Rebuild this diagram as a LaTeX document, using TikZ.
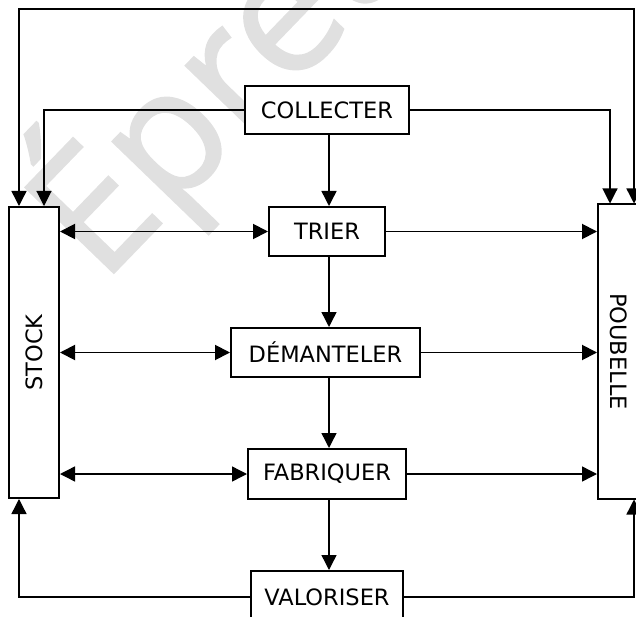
\documentclass[tikz,border=0pt]{standalone}
\usepackage{fontspec}
\setmainfont{DejaVu Sans}
\newfontfamily\wmfont[FakeBold=1.3]{Open Sans}
\usepackage{graphicx}
\usetikzlibrary{arrows.meta}
\definecolor{wmgray}{RGB}{224,224,224}
\begin{document}
\begin{tikzpicture}[x=1pt,y=-1pt,
  ah/.tip={Triangle[length=15pt,width=15pt]},
  box/.style={draw, line width=2pt, fill=white, minimum height=49pt, inner sep=0pt,
    font=\fontsize{22.5}{27}\selectfont},
  thinc/.style={line width=1.1pt},
  medc/.style={line width=1.4pt},
  thickc/.style={line width=1.9pt}
]
\useasboundingbox (0,0) rectangle (636,617);
\begin{scope}
\clip (0,0) rectangle (636,617);
% watermark
\node[text=wmgray, rotate=46, anchor=base west, inner sep=0pt,
  font=\wmfont\fontsize{172}{200}\selectfont] (wmark) at (102,285) {Épreuve};

% boxes
\node[box, minimum width=164pt, minimum height=48pt] (col) at (327,110) {COLLECTER};
\node[box, minimum width=116pt] (tri) at (327,231.5) {TRIER};
\node[box, minimum width=189pt] (dem) at (325.5,352.5) {DÉMANTELER};
\node[box, minimum width=158pt, minimum height=50pt] (fab) at (327,474) {FABRIQUER};
\node[box, minimum width=152pt, minimum height=52pt] (val) at (327,597) {VALORISER};
\node[box, minimum width=50pt, minimum height=291pt] (stock) at (34,352.5) {\rotatebox{90}{STOCK}};
\node[box, minimum width=42pt, minimum height=294pt] (poub) at (619,351.5) {\rotatebox{-90}{POUBELLE}};

\coordinate (top) at (327,9);

% outer loops
\draw[medc, ah-ah] ([xshift=-15pt]stock.north) |- (top) -| ([xshift=15pt]poub.north);
\draw[medc, -ah] (val.west) -| ([xshift=-15pt]stock.south);
\draw[medc, -ah] (val.east) -| ([xshift=15pt]poub.south);

% collecter branches
\draw[thinc, -ah] (col.west) -| ([xshift=10pt]stock.north);
\draw[thinc, -ah] (col.east) -| ([xshift=-9pt]poub.north);

% central chain
\draw[medc, -ah] (col.south -| 329,0) -- (tri.north -| 329,0);
\draw[medc, -ah] (tri.south -| 329,0) -- (dem.north -| 329,0);
\draw[medc, -ah] (dem.south -| 329,0) -- (fab.north -| 329,0);
\draw[medc, -ah] (fab.south -| 329,0) -- (val.north -| 329,0);

% stock exchanges
\draw[thickc, ah-ah] (stock.east |- tri.west) -- (tri.west);
\draw[thickc, ah-ah] (stock.east |- dem.west) -- (dem.west);
\draw[medc, ah-ah] (stock.east |- fab.west) -- (fab.west);

% to poubelle
\draw[thickc, -ah] (tri.east) -- (tri.east -| poub.west);
\draw[thickc, -ah] (dem.east) -- (dem.east -| poub.west);
\draw[medc, -ah] (fab.east) -- (fab.east -| poub.west);
\end{scope}
\end{tikzpicture}
\end{document}
